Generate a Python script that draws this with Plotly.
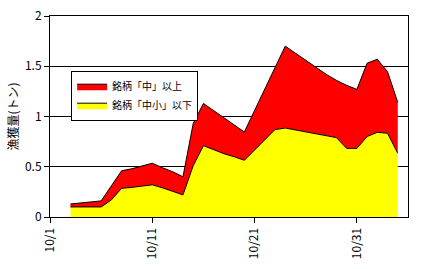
import plotly.graph_objects as go

dates = ["2023-10-%02d" % d for d in range(3, 32)] + ["2023-11-%02d" % d for d in range(1, 5)]
small = [0.10, 0.10, 0.10, 0.10, 0.17, 0.285, 0.295, 0.31, 0.32, 0.29, 0.255, 0.22,
         0.51, 0.71, 0.67, 0.63, 0.60, 0.564, 0.666, 0.768, 0.87, 0.885, 0.865, 0.845,
         0.825, 0.805, 0.79, 0.683, 0.683, 0.80, 0.843, 0.833, 0.634]
large = [0.03, 0.04, 0.05, 0.06, 0.14, 0.175, 0.185, 0.20, 0.215, 0.20, 0.195, 0.18,
         0.42, 0.42, 0.39, 0.36, 0.32, 0.282, 0.394, 0.502, 0.61, 0.815, 0.765, 0.715,
         0.665, 0.615, 0.57, 0.627, 0.587, 0.73, 0.727, 0.613, 0.506]
tick_vals = ["2023-10-01", "2023-10-11", "2023-10-21", "2023-10-31"]
tick_text = ["10/1", "10/11", "10/21", "10/31"]

FONT = "Noto Sans CJK JP"

fig = go.Figure()
fig.add_trace(go.Scatter(x=dates, y=small, name="銘柄「中小」以下", stackgroup="a",
                         mode="lines", line=dict(color="black", width=1),
                         fillcolor="#FFFF00"))
fig.add_trace(go.Scatter(x=dates, y=large, name="銘柄「中」以上", stackgroup="a",
                         mode="lines", line=dict(color="black", width=1),
                         fillcolor="#FF0000"))

fig.update_layout(
    width=431, height=269,
    margin=dict(l=50, r=23, t=16, b=52, autoexpand=False),
    paper_bgcolor="white", plot_bgcolor="white",
    font=dict(family=FONT, size=12, color="black"),
    showlegend=True,
    legend=dict(x=0.059, y=0.728, xanchor="left", yanchor="top",
                bordercolor="black", borderwidth=1, bgcolor="white",
                traceorder="reversed", font=dict(size=10), tracegroupgap=0,
                itemwidth=30),
    xaxis=dict(type="date", range=["2023-10-01", "2023-11-05"],
               tickvals=tick_vals, ticktext=tick_text, tickangle=-90,
               ticks="outside", ticklen=5, tickcolor="black", automargin=False,
               showline=True, linecolor="black", linewidth=1, mirror=True,
               showgrid=False, zeroline=False),
    yaxis=dict(range=[0, 2], tickvals=[0, 0.5, 1, 1.5, 2],
               ticktext=["0", "0.5", "1", "1.5", "2"], automargin=False,
               ticks="outside", ticklen=5, tickcolor="black",
               showline=True, linecolor="black", linewidth=1, mirror=True,
               showgrid=True, gridcolor="black", gridwidth=1, zeroline=False),
    annotations=[dict(text="漁獲量(トン)", xref="paper", yref="paper",
                      x=(12 - 50) / 358, y=0.5, xanchor="center", yanchor="middle",
                      textangle=-90, showarrow=False, font=dict(size=12))],
)

fig.write_html("out.html")
